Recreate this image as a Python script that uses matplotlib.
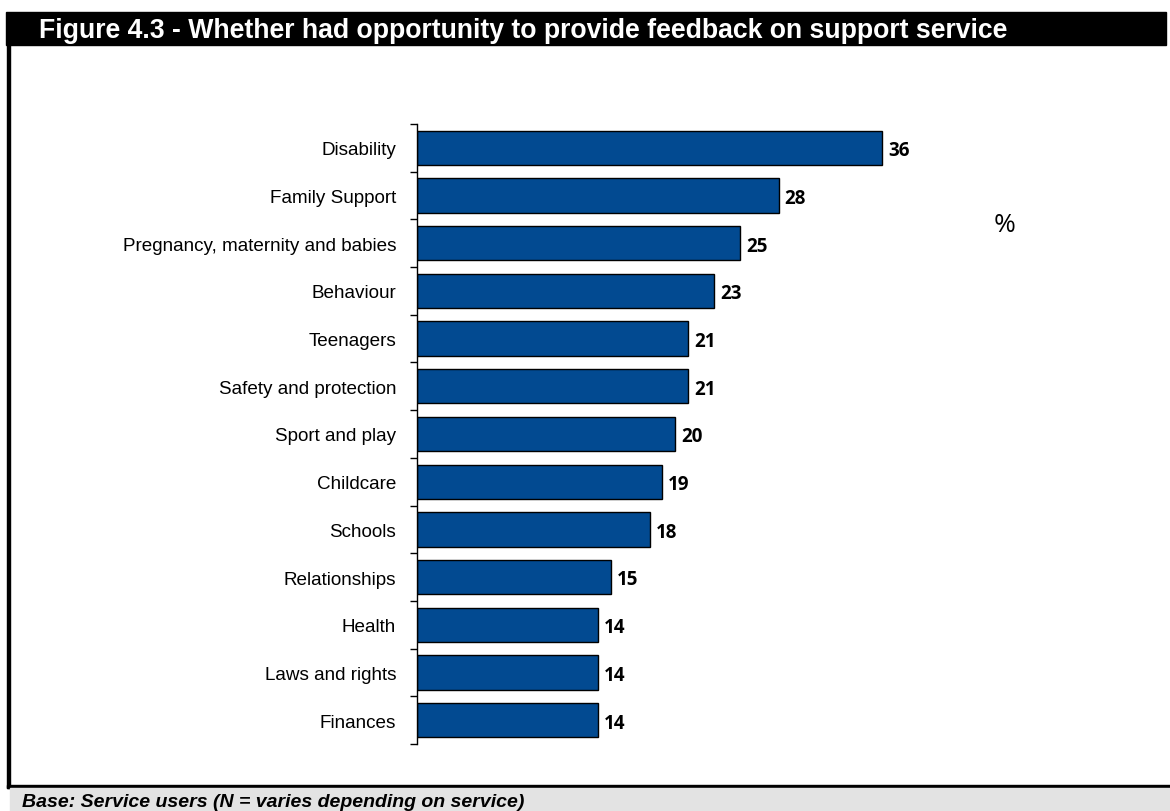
import matplotlib.pyplot as plt
from matplotlib.patches import Rectangle
import numpy as np

# Share of service users who had a chance to give feedback, by service type
categories = ["Disability", "Family Support", "Pregnancy, maternity and babies",
              "Behaviour", "Teenagers", "Safety and protection", "Sport and play",
              "Childcare", "Schools", "Relationships", "Health",
              "Laws and rights", "Finances"]
values = [36, 28, 25, 23, 21, 21, 20, 19, 18, 15, 14, 14, 14]

title = "Figure 4.3 - Whether had opportunity to provide feedback on support service"
base_note = "Base: Service users (N = varies depending on service)"

W, H = 1170, 812
fig = plt.figure(figsize=(W / 100, H / 100), dpi=100)
fig.patch.set_facecolor("white")

# frame: title band, left rule, bottom rule and grey footer
def px_rect(x0, y0, x1, y1, **kw):
    fig.patches.append(Rectangle((x0 / W, 1 - y1 / H), (x1 - x0) / W, (y1 - y0) / H,
                                 transform=fig.transFigure, figure=fig, **kw))

px_rect(6, 13, 1166, 46, color="black", zorder=0)
px_rect(7, 46, 10, 789, color="black", zorder=0)
px_rect(7, 786, W, 789, color="black", zorder=0)
px_rect(10, 789, W, H, color="#e3e3e3", zorder=0)

fig.text(39 / W, 1 - 31 / H, title, color="white", fontsize=19.2, fontweight="bold",
         family="Liberation Sans", va="center", ha="left")
fig.text(22 / W, 1 - 803 / H, base_note, color="black", fontsize=14, fontweight="bold",
         style="italic", family="Liberation Sans", va="center", ha="left")
fig.text(1005 / W, 1 - 225 / H, "%", fontsize=19, family="Open Sans", va="center", ha="center")

# bar axes
ax = fig.add_axes([417 / W, 1 - 745 / H, 646 / W, 620 / H])
n = len(categories)
y = np.arange(n)
ax.barh(y, values, height=0.72, color="#024a91", edgecolor="black", linewidth=1)
ax.set_xlim(0, 50)
ax.set_ylim(n - 0.5, -0.5)

for yi, v in zip(y, values):
    ax.text(v + 0.45, yi + 0.05, str(v), va="center", ha="left", fontsize=13.5,
            fontweight="bold", family="Open Sans")

for side in ["top", "right", "bottom"]:
    ax.spines[side].set_visible(False)
ax.spines["left"].set_linewidth(1)
ax.set_xticks([])

ax.set_yticks(y)
ax.set_yticklabels(categories, family="Liberation Sans", fontsize=13.6)
ax.tick_params(axis="y", which="major", length=0, pad=15)
ax.set_yticks(np.arange(n + 1) - 0.5, minor=True)
ax.tick_params(axis="y", which="minor", length=5, width=1, direction="out")

fig.savefig("out.png", dpi=100)
